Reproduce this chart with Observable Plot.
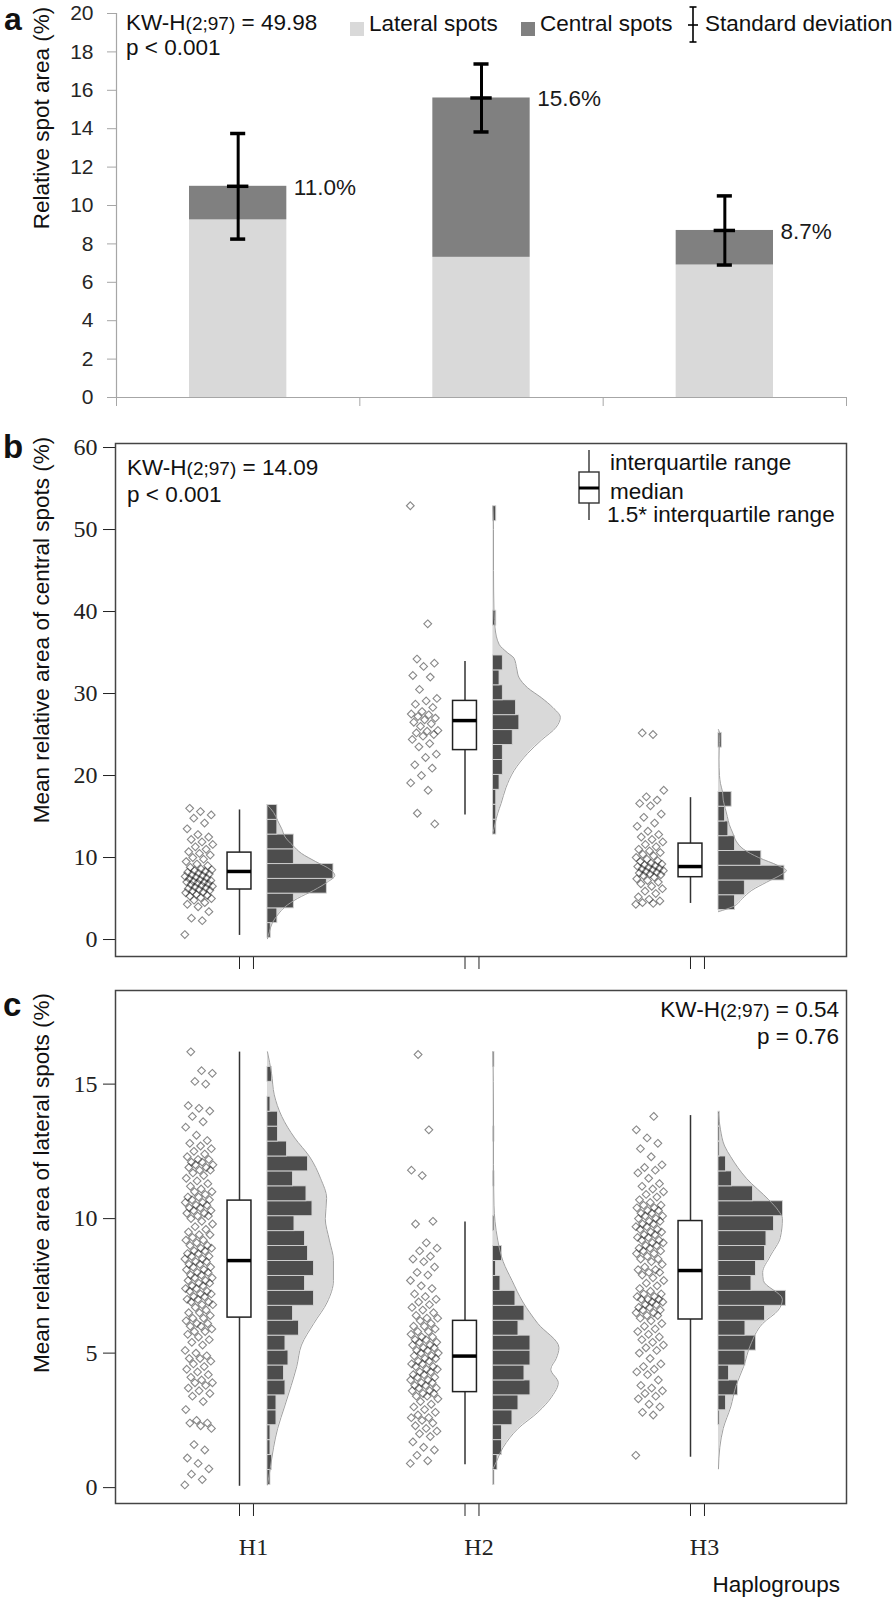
<!DOCTYPE html>
<html><head><meta charset="utf-8">
<script src="https://cdn.jsdelivr.net/npm/d3@7"></script>
<script src="https://cdn.jsdelivr.net/npm/@observablehq/plot@0.6"></script>
<style>
body{margin:0;background:#fff;}
#wrap{position:relative;width:896px;height:1600px;overflow:hidden;font-family:"Liberation Sans",Arial,sans-serif;color:#111;}
.abs{position:absolute;line-height:1;white-space:nowrap;}
.ytitle{position:absolute;line-height:1;white-space:nowrap;transform:translate(-50%,-50%) rotate(-90deg);font-size:22.5px;}
.panel{position:absolute;left:0;}
</style></head><body><div id="wrap"></div>
<script>
// ---------------- DATA ----------------
const groups = ["H1", "H2", "H3"];

// Panel a: stacked means
const lateralMean = [9.25, 7.3, 6.9];
const centralMean = [1.75, 8.3, 1.8];
const totalSD = [2.75, 1.77, 1.8];
const yTicksA = [0, 2, 4, 6, 8, 10, 12, 14, 16, 18, 20];

// Panel b: central spots
const pointsB_H1 = [0.6,2.3,2.6,3.4,4.0,4.3,4.5,4.8,5.0,5.1,5.3,5.4,5.5,5.7,5.8,5.9,6.0,6.1,6.2,6.3,6.4,6.5,6.6,6.7,6.8,6.9,7.0,7.0,7.1,7.2,7.3,7.4,7.5,7.6,7.7,7.8,7.9,8.0,8.1,8.2,8.3,8.4,8.5,8.6,8.8,9.0,9.2,9.5,9.8,10.0,10.3,10.5,10.7,11.0,11.3,11.6,11.9,12.2,12.5,12.8,13.5,14.2,14.8,15.2,15.6,16.0];
const pointsB_H2 = [52.9,38.5,34.2,33.7,33.3,32.2,32.0,30.5,29.4,29.1,28.7,28.3,27.8,27.5,27.4,27.2,27.0,26.8,26.5,26.3,26.0,25.5,25.4,25.2,25.0,24.8,24.4,23.9,23.5,22.6,22.2,21.3,20.9,20.0,19.1,18.2,15.4,14.1];
const pointsB_H3 = [4.3,4.4,4.5,4.7,4.9,5.2,5.6,5.9,6.2,6.5,6.8,7.0,7.2,7.4,7.6,7.8,7.9,8.0,8.1,8.2,8.3,8.4,8.5,8.6,8.7,8.8,8.9,9.0,9.1,9.2,9.3,9.5,9.6,9.8,10.0,10.2,10.4,10.6,10.8,11.0,11.3,11.6,11.9,12.2,12.5,12.8,13.2,13.8,14.2,14.9,15.3,16.3,16.6,17.0,17.4,18.2,25.0,25.2];
const boxB_q1 = [6.1, 23.1, 7.6];
const boxB_med = [8.3, 26.7, 8.9];
const boxB_q3 = [10.6, 29.1, 11.7];
const boxB_lo = [0.5, 15.2, 4.4];
const boxB_hi = [15.8, 33.9, 17.3];
const histB_start = [0.2, 12.8, 3.6];
const histB_width = [1.8, 1.82, 1.8];
const histB_H1 = [1, 3, 8, 18, 20, 8, 8, 3, 3];
const histB_H2 = [1, 1, 1, 2, 3, 3, 6, 8, 7, 3, 2, 3, 0, 0, 1, 0, 0, 0, 0, 0, 0, 1];
const histB_H3 = [5, 8, 20, 13, 5, 3, 2, 4, 0, 0, 0, 1];
const densB_H1 = [[0.1,0],[1,0.03],[2,0.07],[3,0.15],[4,0.26],[5,0.44],[6,0.68],[7,0.88],[7.8,0.99],[8.5,0.93],[9.5,0.71],[10.5,0.5],[11.5,0.37],[12.5,0.26],[13.5,0.21],[14.5,0.15],[15.5,0.09],[16.4,0]];
const densB_H2 = [[13.0,0],[14.1,0.03],[15.4,0.07],[16.6,0.12],[18.5,0.19],[20.6,0.31],[22.7,0.51],[24.3,0.71],[25.9,0.93],[27.1,0.99],[28.3,0.88],[29.5,0.71],[30.7,0.51],[32.0,0.38],[33.0,0.35],[34.3,0.31],[35.0,0.21],[36.0,0.09],[38.0,0.03],[40.0,0.015],[45,0.008],[50,0.008],[52.8,0]];
const densB_H3 = [[3.4,0],[4,0.21],[5,0.35],[6,0.49],[7,0.71],[8,0.94],[8.4,1],[9,0.88],[10,0.59],[11,0.37],[12,0.26],[13,0.21],[14,0.16],[15,0.13],[16,0.1],[17,0.07],[18,0.06],[19,0.03],[20,0.015],[22,0.008],[24,0.015],[25,0.02],[25.6,0]];
const yTicksB = [0, 10, 20, 30, 40, 50, 60];

// Panel c: lateral spots
const pointsC_H1 = [0.1,0.3,0.5,0.7,0.9,1.1,1.4,1.6,2.2,2.3,2.4,2.4,2.5,2.9,3.2,3.4,3.5,3.6,3.7,3.8,3.9,3.9,4.0,4.1,4.2,4.3,4.4,4.5,4.6,4.7,4.8,4.8,4.9,5.0,5.1,5.3,5.4,5.5,5.6,5.7,5.8,5.8,5.9,6.0,6.0,6.1,6.1,6.2,6.3,6.3,6.4,6.5,6.5,6.6,6.7,6.8,6.8,6.9,6.9,7.0,7.0,7.1,7.1,7.2,7.2,7.3,7.3,7.4,7.4,7.5,7.5,7.6,7.6,7.7,7.7,7.8,7.8,7.9,7.9,8.0,8.0,8.1,8.1,8.2,8.2,8.3,8.3,8.4,8.4,8.5,8.5,8.6,8.6,8.7,8.7,8.8,8.8,8.9,8.9,9.0,9.0,9.1,9.2,9.2,9.3,9.4,9.4,9.5,9.6,9.7,9.8,9.9,10.0,10.1,10.1,10.2,10.2,10.3,10.3,10.4,10.4,10.5,10.5,10.6,10.6,10.7,10.7,10.8,10.8,10.9,11.0,11.0,11.1,11.2,11.3,11.4,11.5,11.6,11.7,11.8,11.8,11.9,11.9,12.0,12.0,12.1,12.1,12.2,12.2,12.3,12.4,12.5,12.6,12.7,12.8,12.9,13.1,13.4,13.6,13.8,14.0,14.1,14.2,15.0,15.1,15.4,15.5,16.2];
const pointsC_H2 = [0.9,1.0,1.2,1.4,1.5,1.7,1.9,2.0,2.1,2.2,2.3,2.4,2.5,2.6,2.6,2.7,2.8,2.9,3.0,3.1,3.2,3.3,3.4,3.4,3.5,3.5,3.6,3.6,3.7,3.7,3.8,3.8,3.9,3.9,4.0,4.0,4.1,4.1,4.2,4.2,4.3,4.3,4.4,4.4,4.5,4.5,4.6,4.6,4.7,4.7,4.8,4.8,4.9,4.9,5.0,5.0,5.1,5.1,5.2,5.2,5.3,5.3,5.4,5.4,5.5,5.5,5.6,5.6,5.7,5.8,5.8,5.9,6.0,6.0,6.1,6.2,6.3,6.3,6.4,6.5,6.6,6.7,6.8,6.9,7.0,7.1,7.2,7.4,7.5,7.7,7.9,8.0,8.2,8.4,8.5,8.6,8.8,8.9,9.1,9.8,9.9,11.6,11.8,13.3,16.1];
const pointsC_H3 = [1.2,2.7,2.8,3.0,3.1,3.3,3.4,3.5,3.6,3.7,3.8,4.0,4.2,4.3,4.4,4.5,4.6,4.8,5.0,5.1,5.2,5.3,5.4,5.5,5.6,5.7,5.8,5.9,6.0,6.1,6.2,6.3,6.4,6.4,6.5,6.5,6.6,6.6,6.7,6.7,6.8,6.8,6.9,6.9,7.0,7.0,7.0,7.1,7.1,7.2,7.2,7.3,7.4,7.5,7.6,7.7,7.8,7.9,8.0,8.0,8.1,8.1,8.2,8.3,8.4,8.5,8.5,8.6,8.7,8.7,8.8,8.8,8.9,8.9,9.0,9.0,9.1,9.1,9.2,9.2,9.3,9.3,9.4,9.4,9.5,9.5,9.6,9.6,9.7,9.7,9.8,9.8,9.9,9.9,10.0,10.0,10.1,10.1,10.2,10.2,10.3,10.3,10.4,10.4,10.5,10.5,10.6,10.7,10.8,10.9,11.0,11.1,11.2,11.3,11.5,11.7,11.8,11.9,12.0,12.3,12.6,12.8,13.0,13.3,13.8];
const boxC_q1 = [6.32, 3.55, 6.25];
const boxC_med = [8.44, 4.89, 8.07];
const boxC_q3 = [10.67, 6.2, 9.91];
const boxC_lo = [0.05, 0.85, 1.13];
const boxC_hi = [16.19, 9.87, 13.83];
const histC_start = [0.1, 0.1, 0.1];
const histC_width = [0.555, 0.555, 0.555];
const histC_H1 = [2,3,2,2,6,6,12,11,14,12,21,17,31,25,31,27,25,18,30,26,17,27,13,7,7,2,0,3];
const histC_H2 = [1,3,6,6,13,17,25,21,25,25,17,21,15,5,2,6,0,1,0,0,1,0,0,1,0,0,0,0,1];
const histC_H3 = [0,0,0,0,1,5,13,7,18,25,18,31,45,22,25,31,32,37,43,23,9,5,1,1,1];
const densC_H1 = [[0.1,0],[0.7,0.04],[1.5,0.09],[2.2,0.15],[3.0,0.25],[3.8,0.35],[4.5,0.43],[5.3,0.5],[6.1,0.68],[6.9,0.88],[7.7,0.97],[8.45,0.97],[9.2,0.91],[10.0,0.85],[10.75,0.87],[11.5,0.78],[12.3,0.62],[13.0,0.4],[13.8,0.21],[14.6,0.1],[15.4,0.06],[16.2,0]];
const densC_H2 = [[0.7,0],[0.85,0.03],[1.5,0.15],[2.2,0.37],[2.8,0.66],[3.4,0.87],[3.9,0.96],[4.4,0.85],[4.8,0.93],[5.2,0.97],[6.1,0.66],[6.9,0.44],[7.7,0.28],[8.4,0.15],[9.2,0.07],[9.9,0.03],[10.5,0.015],[12,0.008],[14,0.008],[16.2,0]];
const densC_H3 = [[0.7,0],[1.5,0.02],[2.2,0.07],[3.0,0.18],[3.8,0.26],[4.5,0.37],[5.3,0.47],[6.1,0.65],[6.6,0.88],[7.0,0.94],[7.7,0.66],[8.0,0.65],[8.6,0.76],[9.3,0.91],[10.0,0.94],[10.3,0.88],[10.7,0.74],[11.5,0.41],[12.3,0.18],[12.7,0.09],[13.3,0.03],[13.9,0]];
const yTicksC = [0, 5, 10, 15];

// ---------------- LAYOUT CONSTANTS (group units) ----------------
const PT_OFF = -0.18, PT_SPREAD = 0.125, BOX_HW = 0.053, HIST_OFF = 0.124, TICK2 = 0.062, DENS_W = 0.3016;
const XDOM = [0.4501, 3.6918];

const wrap = document.getElementById("wrap");
function place(node, top) {
  const d = document.createElement("div");
  d.className = "panel"; d.style.top = top + "px";
  d.appendChild(node); wrap.appendChild(d);
}
function txt(html, opts) {
  const d = document.createElement("div");
  d.className = "abs";
  if (opts.left != null) d.style.left = opts.left + "px";
  if (opts.right != null) d.style.right = opts.right + "px";
  d.style.top = opts.top + "px";
  d.style.fontSize = (opts.size || 22.5) + "px";
  if (opts.bold) d.style.fontWeight = "bold";
  d.innerHTML = html;
  wrap.appendChild(d);
  return d;
}
function ytitle(s, x, y) {
  const d = document.createElement("div");
  d.className = "ytitle"; d.style.left = x + "px"; d.style.top = y + "px";
  d.textContent = s; wrap.appendChild(d);
}

// ---------------- PANEL A ----------------
const barRows = groups.map((g, i) => ({
  i, lat: lateralMean[i], tot: lateralMean[i] + centralMean[i], sd: totalSD[i]
}));
const capRows = barRows.flatMap(d => [
  {x: d.i + 0.5, y: d.tot - d.sd, w: 0.031},
  {x: d.i + 0.5, y: d.tot + d.sd, w: 0.031},
  {x: d.i + 0.5, y: d.tot, w: 0.044}
]);
const plotA = Plot.plot({
  width: 896, height: 425,
  marginLeft: 116, marginRight: 50, marginTop: 13, marginBottom: 28,
  style: {fontFamily: "'Liberation Sans', Arial, sans-serif", fontSize: "21px", color: "#262626", background: "white"},
  x: {domain: [0, 3], ticks: [0, 1, 2, 3], tickFormat: () => "", tickSize: 9, label: null},
  y: {domain: [0, 20], ticks: yTicksA, tickSize: 9, tickPadding: 14, label: null},
  marks: [
    Plot.rect(barRows, {x1: d => d.i + 0.3, x2: d => d.i + 0.7, y1: 0, y2: "lat", fill: "#d9d9d9"}),
    Plot.rect(barRows, {x1: d => d.i + 0.3, x2: d => d.i + 0.7, y1: "lat", y2: "tot", fill: "#808080"}),
    Plot.ruleX([0], {stroke: "#a6a6a6", strokeWidth: 1.2}),
    Plot.ruleY([0], {stroke: "#a6a6a6", strokeWidth: 1.2}),
    Plot.ruleX(barRows, {x: d => d.i + 0.5, y1: d => d.tot - d.sd, y2: d => d.tot + d.sd, stroke: "#000", strokeWidth: 3}),
    Plot.ruleY(capRows, {y: "y", x1: d => d.x - d.w, x2: d => d.x + d.w, stroke: "#000", strokeWidth: 3.5}),
    Plot.text(barRows, {x: d => d.i + 0.7, y: "tot", text: d => d.tot.toFixed(1) + "%", dx: 7, dy: 1,
      textAnchor: "start", fontSize: 22.5, fill: "#1a1a1a"})
  ]
});
plotA.querySelectorAll('g[aria-label="y-axis tick"] path, g[aria-label="x-axis tick"] path, g[aria-label="y-axis"] line, g[aria-label="x-axis"] line')
  .forEach(e => e.setAttribute("stroke", "#a6a6a6"));
place(plotA, 0);

// ---------------- RAINCLOUD PANELS ----------------
function raincloud(o) {
  const ptRows = [], boxRows = [], histRows = [], densRows = [];
  groups.forEach((g, gi) => {
    const c = gi + 1;
    o.points[gi].forEach((v, i) => ptRows.push({x: c + PT_OFF + (((i * 0.6180339887) % 1) - 0.5) * PT_SPREAD, v}));
    boxRows.push({c, q1: o.q1[gi], med: o.med[gi], q3: o.q3[gi], lo: o.lo[gi], hi: o.hi[gi]});
    const base = c + HIST_OFF;
    o.hists[gi].forEach((n, i) => {
      if (n > 0) histRows.push({x1: base, x2: base + n * o.countW,
        y1: o.histStart[gi] + i * o.histW[gi], y2: o.histStart[gi] + (i + 1) * o.histW[gi]});
    });
    o.dens[gi].forEach(([v, r]) => densRows.push({g, v, x1: base, x2: base + r * DENS_W}));
  });
  const xt = [];
  groups.forEach((g, gi) => { xt.push(gi + 1, gi + 1 + TICK2); });
  return Plot.plot({
    width: 896, height: o.height,
    marginLeft: 115, marginRight: 50, marginTop: o.mTop, marginBottom: o.mBottom,
    style: {fontFamily: "'Liberation Serif', 'Times New Roman', serif", fontSize: "24px", color: "#222", background: "white"},
    x: {domain: XDOM, ticks: xt, tickSize: 13, tickPadding: 21, label: null,
        tickFormat: d => {
          const k = Math.round(d);
          return (o.showLabels && Math.abs(d - k - TICK2) < 1e-6) ? groups[k - 1] : "";
        }},
    y: {domain: o.yDomain, ticks: o.yTicks, tickSize: 12, tickPadding: 6, label: null},
    marks: [
      Plot.areaX(densRows, {y: "v", x1: "x1", x2: "x2", z: "g", fill: "#d9d9d9", curve: "monotone-y"}),
      Plot.rect(histRows, {x1: "x1", x2: "x2", y1: "y1", y2: "y2", fill: "#4d4d4d", stroke: "#d4d4d4", strokeWidth: 0.9}),
      Plot.lineX(densRows, {x: "x2", y: "v", z: "g", stroke: "#a0a0a0", strokeWidth: 1, curve: "monotone-y"}),
      Plot.dot(ptRows, {x: "x", y: "v", symbol: "diamond2", r: 3.5, stroke: "#1a1a1a", strokeOpacity: 0.52, strokeWidth: 1.1}),
      Plot.ruleX(boxRows, {x: "c", y1: "lo", y2: "q1", stroke: "#333", strokeWidth: 1.5}),
      Plot.ruleX(boxRows, {x: "c", y1: "q3", y2: "hi", stroke: "#333", strokeWidth: 1.5}),
      Plot.rect(boxRows, {x1: d => d.c - BOX_HW, x2: d => d.c + BOX_HW, y1: "q1", y2: "q3", fill: "white", stroke: "#222", strokeWidth: 1.5}),
      Plot.ruleY(boxRows, {y: "med", x1: d => d.c - BOX_HW, x2: d => d.c + BOX_HW, stroke: "#000", strokeWidth: 3.5}),
      Plot.frame({stroke: "#444", strokeWidth: 1.5})
    ]
  });
}

place(raincloud({
  height: 545, mTop: 18, mBottom: 14, yDomain: [-2.07, 60.49], yTicks: yTicksB, showLabels: false,
  points: [pointsB_H1, pointsB_H2, pointsB_H3],
  q1: boxB_q1, med: boxB_med, q3: boxB_q3, lo: boxB_lo, hi: boxB_hi,
  histStart: histB_start, histW: histB_width, hists: [histB_H1, histB_H2, histB_H3],
  dens: [densB_H1, densB_H2, densB_H3], countW: 3.3 / 225.5
}), 425);

place(raincloud({
  height: 630, mTop: 20, mBottom: 97, yDomain: [-0.59, 18.48], yTicks: yTicksC, showLabels: true,
  points: [pointsC_H1, pointsC_H2, pointsC_H3],
  q1: boxC_q1, med: boxC_med, q3: boxC_q3, lo: boxC_lo, hi: boxC_hi,
  histStart: histC_start, histW: histC_width, hists: [histC_H1, histC_H2, histC_H3],
  dens: [densC_H1, densC_H2, densC_H3], countW: 1.5 / 225.5
}), 970);

// ---------------- TEXT & LEGENDS ----------------
txt("a", {left: 4, top: 3, size: 32, bold: true});
txt("b", {left: 3, top: 430, size: 33, bold: true});
txt("c", {left: 3, top: 988, size: 33, bold: true});

ytitle("Relative spot area (%)", 42, 118);
ytitle("Mean relative area of central spots (%)", 42, 630);
ytitle("Mean relative area of lateral spots (%)", 42, 1183);

const kw = v => 'KW-H<span style="font-size:19px">(2;97)</span> = ' + v;
txt(kw("49.98"), {left: 126, top: 12});
txt("p &lt; 0.001", {left: 126, top: 37});
txt(kw("14.09"), {left: 127, top: 457});
txt("p &lt; 0.001", {left: 127, top: 484});
txt(kw("0.54"), {right: 57, top: 999});
txt("p = 0.76", {right: 57, top: 1026});

// Panel a legend
txt('<span style="display:inline-block;width:14px;height:14px;background:#d9d9d9"></span>', {left: 350, top: 18});
txt("Lateral spots", {left: 369, top: 13});
txt('<span style="display:inline-block;width:14px;height:14px;background:#808080"></span>', {left: 521, top: 18});
txt("Central spots", {left: 540, top: 13});
txt('<svg width="14" height="40" style="display:block"><g stroke="#000" stroke-width="1.6"><line x1="7" y1="2" x2="7" y2="37"/><line x1="3.5" y1="2" x2="10.5" y2="2"/><line x1="3.5" y1="37" x2="10.5" y2="37"/><line x1="2" y1="20" x2="12" y2="20"/></g></svg>', {left: 686, top: 5});
txt("Standard deviation", {left: 705, top: 13});

// Panel b legend
txt('<svg width="26" height="80" style="display:block"><g stroke="#333" stroke-width="1.4" fill="white"><line x1="12" y1="5" x2="12" y2="27"/><line x1="12" y1="58" x2="12" y2="75"/><rect x="2" y="27" width="20" height="31"/></g><line x1="2" y1="43" x2="22" y2="43" stroke="#000" stroke-width="3"/></svg>', {left: 577, top: 445});
txt("interquartile range", {left: 610, top: 452});
txt("median", {left: 610, top: 481});
txt("1.5* interquartile range", {left: 607, top: 504});

txt("Haplogroups", {right: 56, top: 1574});
</script></body></html>
